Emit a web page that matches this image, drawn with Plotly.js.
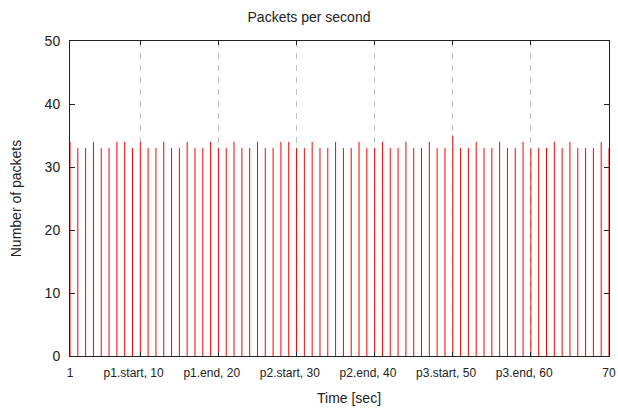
<!DOCTYPE html>
<html>
<head>
<meta charset="utf-8">
<script src="https://cdn.plot.ly/plotly-3.0.1.min.js"></script>
<style>html,body{margin:0;padding:0;background:#fff;}#chart{width:618px;height:411px;}</style>
</head>
<body>
<div id="chart"></div>
<script>
const seconds = [1,2,3,4,5,6,7,8,9,10,11,12,13,14,15,16,17,18,19,20,21,22,23,24,25,26,27,28,29,30,31,32,33,34,35,36,37,38,39,40,41,42,43,44,45,46,47,48,49,50,51,52,53,54,55,56,57,58,59,60,61,62,63,64,65,66,67,68,69,70];
const packets = [34,33,33,34,33,33,34,34,33,34,33,33,34,33,33,34,33,33,34,33,33,34,33,33,34,33,33,34,34,33,33,34,33,33,34,33,33,34,33,33,34,33,33,34,33,33,34,33,33,35,33,33,34,33,33,34,33,33,34,33,33,33,34,33,34,33,33,33,34,33];
const tickValues = [1,10,20,30,40,50,60,70];
const tickLabels = ['1','p1.start, 10','p1.end, 20','p2.start, 30','p2.end, 40','p3.start, 50','p3.end, 60','70'];
const yTicks = [0,10,20,30,40,50];

const pad = '\u00a0\u00a0\u00a0\u00a0';
const shownLabels = tickLabels.map((t, i) => (i === 0 || i === tickLabels.length - 1) ? t : t + pad);

// impulses: each value drawn as a vertical segment from 0 to the value
const impX = [], impY = [];
seconds.forEach((s, i) => { impX.push(s, s, null); impY.push(0, packets[i], null); });

const font = '"Liberation Sans", Arial, sans-serif';
const trace = {
  type: 'scatter', mode: 'lines',
  x: impX, y: impY,
  line: {color: '#ff0000', width: 1},
  connectgaps: false,
  hoverinfo: 'skip'
};
const layout = {
  width: 618, height: 411,
  margin: {l: 70, r: 9, t: 41, b: 55, pad: 0},
  paper_bgcolor: '#ffffff', plot_bgcolor: '#ffffff',
  font: {family: font, color: '#222222', size: 14},
  showlegend: false,
  title: {text: 'Packets per second', font: {family: font, size: 14, color: '#222222'}, x: 0.5, xanchor: 'center', y: 1 - 17/411, yanchor: 'middle'},
  xaxis: {
    range: [1, 70],
    tickmode: 'array', tickvals: tickValues, ticktext: shownLabels,
    tickfont: {family: font, size: 12, color: '#222222'},
    ticks: 'inside', ticklen: 4, tickcolor: '#222222', tickwidth: 1,
    showline: true, linecolor: '#222222', linewidth: 1, mirror: 'ticks',
    showgrid: true, gridcolor: '#c0c0c0', gridwidth: 1, griddash: '6px,6px',
    zeroline: false, ticklabelstandoff: 6, layer: 'above traces'
  },
  yaxis: {
    range: [0, 50],
    tickmode: 'array', tickvals: yTicks,
    tickfont: {family: font, size: 14, color: '#222222'},
    ticks: 'inside', ticklen: 5, tickcolor: '#222222', tickwidth: 1,
    showline: true, linecolor: '#222222', linewidth: 1, mirror: 'ticks',
    showgrid: false, zeroline: false, ticklabelstandoff: 6, layer: 'above traces',
    title: {text: 'Number of packets', font: {family: font, size: 14, color: '#222222'}, standoff: 19}
  },
  annotations: [{
    text: 'Time [sec]', xref: 'paper', yref: 'paper',
    x: (349 - 70) / 539, y: -(398 - 356) / 315,
    xanchor: 'center', yanchor: 'middle', showarrow: false,
    font: {family: font, size: 14, color: '#222222'}
  }]
};
Plotly.newPlot('chart', [trace], layout, {displayModeBar: false, staticPlot: true});
</script>
</body>
</html>
